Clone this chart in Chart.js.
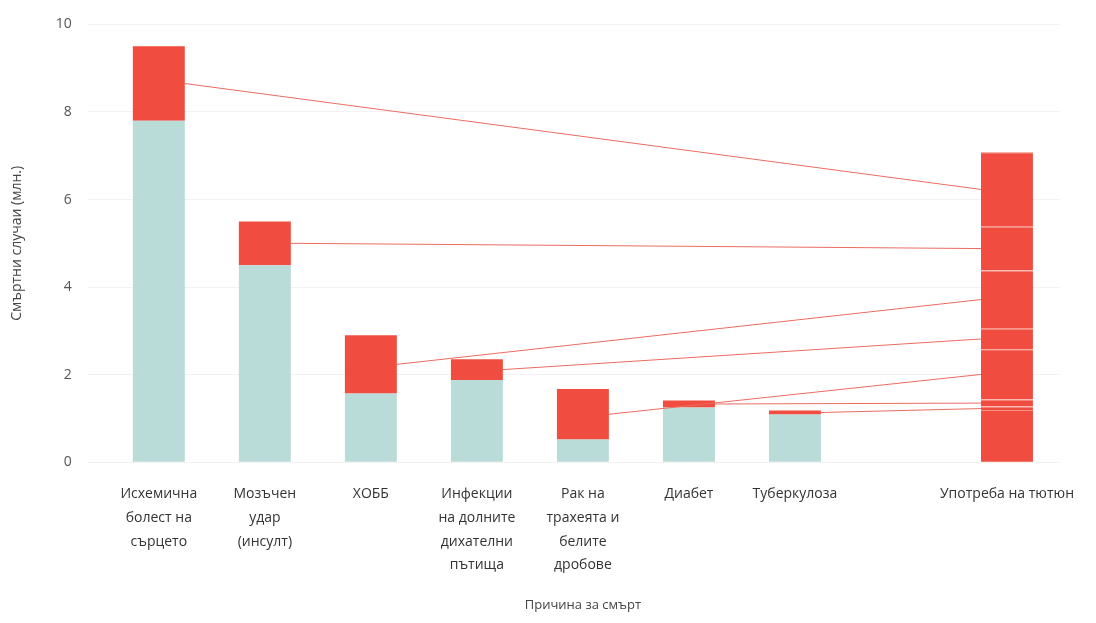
<!DOCTYPE html>
<html>
<head>
<meta charset="utf-8">
<script src="https://cdn.jsdelivr.net/npm/chart.js@4.4.1/dist/chart.umd.min.js"></script>
<style>
  body { margin: 0; background: #fff; }
  #wrap { width: 1096px; height: 623px; }
</style>
</head>
<body>
<div id="wrap"><canvas id="deaths-chart"></canvas></div>
<script>
// causes of death (last two slots: empty gap + tobacco bar)
const causes = [
  ['Исхемична', 'болест на', 'сърцето'],
  ['Мозъчен', 'удар', '(инсулт)'],
  'ХОББ',
  ['Инфекции', 'на долните', 'дихателни', 'пътища'],
  ['Рак на', 'трахеята и', 'белите', 'дробове'],
  'Диабет',
  'Туберкулоза'
];
const tobaccoLabel = 'Употреба на тютюн';

// deaths not linked to tobacco (million)
const otherDeaths = [7.8, 4.5, 1.57, 1.88, 0.52, 1.25, 1.09];
// deaths linked to tobacco, per cause (million)
const tobaccoDeaths = [1.7, 1.0, 1.33, 0.47, 1.15, 0.16, 0.09];
// remaining tobacco deaths from other causes
const tobaccoOtherCauses = 1.18;

const yTicks = [0, 2, 4, 6, 8, 10];

const teal = '#b9dcd9';
const red = '#f04c3f';

const labels = [...causes, '', tobaccoLabel];
const n = labels.length;
const tobIdx = n - 1;

function pad(arr) {
  const out = new Array(n).fill(null);
  arr.forEach((v, i) => out[i] = v);
  return out;
}
function onlyTobacco(v) {
  const out = new Array(n).fill(null);
  out[tobIdx] = v;
  return out;
}

const datasets = [
  { label: 'other', data: pad(otherDeaths), backgroundColor: teal },
  { label: 'tobacco', data: pad(tobaccoDeaths), backgroundColor: red },
  { label: 'tobacco other', data: onlyTobacco(tobaccoOtherCauses), backgroundColor: red }
];
// tobacco bar segments, stacked bottom -> top (last cause at bottom)
for (let i = tobaccoDeaths.length - 1; i >= 0; i--) {
  datasets.push({
    label: 'seg' + i,
    causeIndex: i,
    data: onlyTobacco(tobaccoDeaths[i]),
    backgroundColor: red,
    borderColor: '#f5796e',
    borderWidth: { top: 1, bottom: 0, left: 0, right: 0 },
    borderSkipped: false
  });
}

// connector lines from each cause's red part to its segment of the tobacco bar
const connectors = {
  id: 'connectors',
  afterDatasetsDraw(chart) {
    const ctx = chart.ctx;
    const redMeta = chart.getDatasetMeta(1);
    ctx.save();
    ctx.strokeStyle = '#ec6b62';
    ctx.lineWidth = 1;
    chart.data.datasets.forEach((ds, di) => {
      if (ds.causeIndex === undefined) return;
      const from = redMeta.data[ds.causeIndex];
      const to = chart.getDatasetMeta(di).data[tobIdx];
      ctx.beginPath();
      ctx.moveTo(from.x + from.width / 2, (from.y + from.base) / 2);
      ctx.lineTo(to.x - to.width / 2, (to.y + to.base) / 2);
      ctx.stroke();
    });
    ctx.restore();
  }
};

Chart.defaults.font.family = '"Open Sans", sans-serif';

new Chart(document.getElementById('deaths-chart'), {
  type: 'bar',
  data: { labels: labels, datasets: datasets },
  plugins: [connectors],
  options: {
    responsive: true,
    maintainAspectRatio: false,
    animation: false,
    layout: { padding: { top: 10, right: 36, left: 5, bottom: 10 } },
    datasets: { bar: { barPercentage: 0.49, categoryPercentage: 1 } },
    plugins: { legend: { display: false }, tooltip: { enabled: false } },
    scales: {
      x: {
        stacked: true,
        grid: { display: false },
        border: { display: false },
        ticks: {
          maxRotation: 0, autoSkip: false, padding: 12, color: '#333',
          font: { size: 14, lineHeight: 1.7 }
        },
        title: {
          display: true, text: 'Причина за смърт', color: '#444',
          font: { size: 13 }, padding: { top: 8, bottom: 0 }
        }
      },
      y: {
        stacked: true,
        min: 0, max: 10,
        afterBuildTicks(axis) { axis.ticks = yTicks.map(v => ({ value: v })); },
        grid: { color: '#f2f2f2', tickLength: 18, tickColor: '#f2f2f2' },
        border: { display: false },
        ticks: { padding: 16, color: '#555', font: { size: 14 } },
        title: {
          display: true, text: 'Смъртни случаи (млн.)', color: '#444',
          font: { size: 14 }, padding: { bottom: 14 }
        }
      }
    }
  }
});
</script>
</body>
</html>
